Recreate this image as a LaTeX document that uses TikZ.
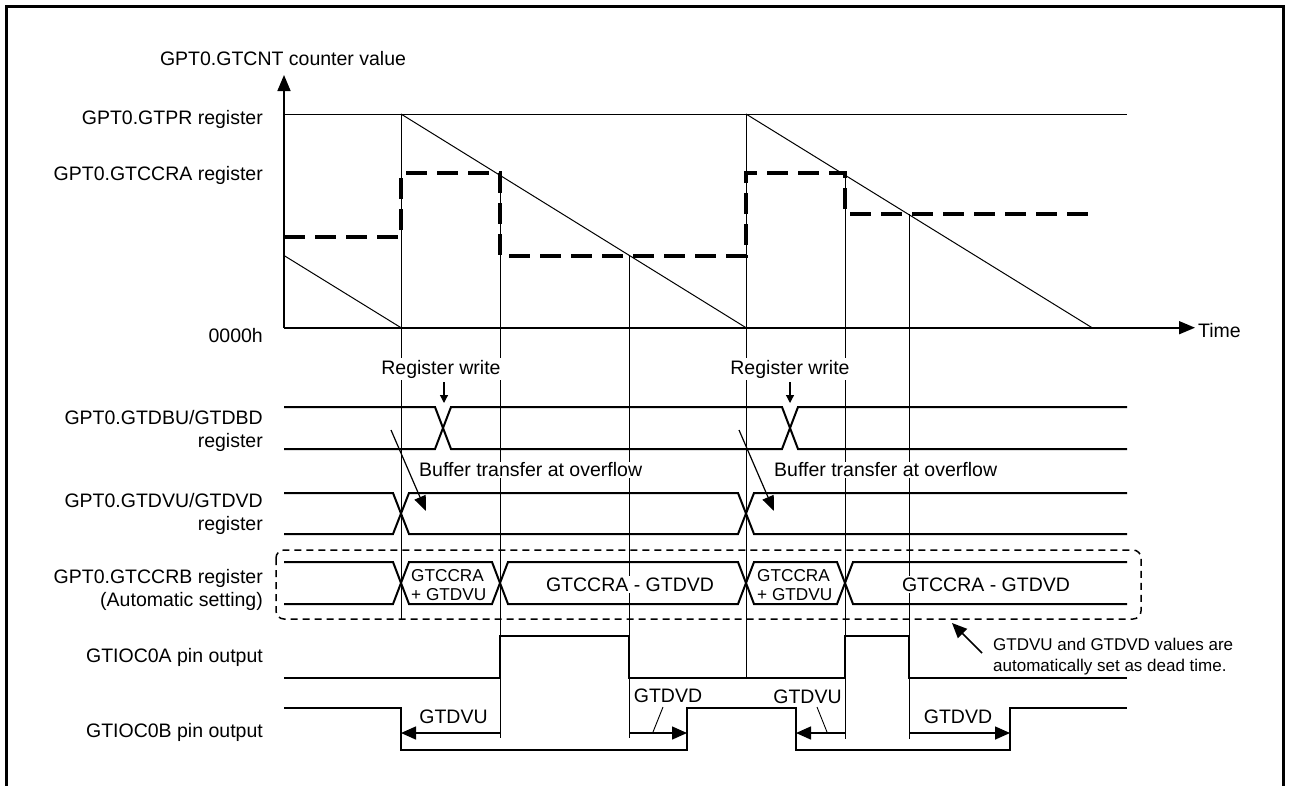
\documentclass[tikz,border=0pt]{standalone}
\usepackage{fontspec}
\setmainfont{Liberation Sans}
\usetikzlibrary{arrows.meta}
\newcommand{\mainfs}{\fontsize{19.5}{23.5}\selectfont}
\newcommand{\smallfs}{\fontsize{17.2}{20}\selectfont}
\newcommand{\notefs}{\fontsize{17}{21}\selectfont}
\begin{document}
\begin{tikzpicture}[x=1pt,y=-1pt,
  thinln/.style={line width=1pt},
  axln/.style={line width=1.6pt},
  sigln/.style={line width=2pt, line join=miter},
  cmpln/.style={line width=4.5pt, dash pattern=on 21pt off 10pt},
  boxln/.style={line width=1.5pt, dash pattern=on 7pt off 5pt, rounded corners=8pt},
  lbl/.style={font=\mainfs, inner sep=0pt},
  wlbl/.style={font=\mainfs, inner sep=1.5pt, fill=white},
  slbl/.style={font=\smallfs, inner sep=0pt},
  nlbl/.style={font=\notefs, inner sep=0pt, anchor=base west},
  dtarr/.style={line width=1.5pt, -{Triangle[length=15pt,width=13pt]}},
  bfarr/.style={line width=1.2pt, -{Triangle[length=15pt,width=12pt]}},
  rwarr/.style={line width=1.2pt, -{Triangle[length=8pt,width=8pt]}},
  axarr/.style={axln, -{Triangle[length=16pt,width=13pt]}},
  leader/.style={line width=0.9pt}
]
\useasboundingbox (0,0) rectangle (1289,785);
\clip (0,0) rectangle (1289,785);
% frame (open at the bottom)
\draw[line width=3pt] (6,830) -- (6,6.5) -- (1283,6.5) -- (1283,830);

% ---------- counter graph ----------
\coordinate (O) at (284,327.7);
\coordinate (Ytip) at (284,75);
\coordinate (Xtip) at (1195,327.7);
\draw[axarr] (O) -- (Ytip);
\draw[axarr] (O) -- (Xtip);
\draw[thinln] (284,114) -- (1127,114);
% sawtooth
\draw[thinln] (284,255.5) -- (401,327.7);
\draw[thinln] (401,114) -- (746,327.7);
\draw[thinln] (746,114) -- (1092,327.7);
% compare register (thick dashed)
\draw[cmpln] (284,237) -- (401,237) -- (401,173) -- (500,173) -- (500,256) -- (746,256) -- (746,173) -- (845,173) -- (845,214) -- (1088,214);

% guide lines
\draw[thinln] (401,114) -- (401,619);
\draw[thinln] (500,173) -- (500,738);
\draw[thinln] (629,256) -- (629,738);
\draw[thinln] (746,114) -- (746,678);
\draw[thinln] (845,173) -- (845,739);
\draw[thinln] (909,214) -- (909,739);

% axis labels
\node[lbl, anchor=base] (ylab) at (283,65) {GPT0.GTCNT counter value};
\node[lbl, anchor=base west] (tlab) at (1198,337) {Time};
\node[lbl, anchor=base east] (prlab) at (263,124) {GPT0.GTPR register};
\node[lbl, anchor=base east] (cralab) at (263,180) {GPT0.GTCCRA register};
\node[lbl, anchor=base east] (zlab) at (263,342) {0000h};

% ---------- GTDBU/GTDBD ----------
\draw[sigln] (284,407) -- (435,407) -- (451,449) -- (782,449) -- (798,407) -- (1127,407);
\draw[sigln] (284,449) -- (435,449) -- (451,407) -- (782,407) -- (798,449) -- (1127,449);
\node[lbl, anchor=base east] (dbl1) at (263,424) {GPT0.GTDBU/GTDBD};
\node[lbl, anchor=base east] (dbl2) at (263,447.5) {register};

% ---------- GTDVU/GTDVD ----------
\draw[sigln] (284,493) -- (393,493) -- (409,534) -- (738,534) -- (754,493) -- (1127,493);
\draw[sigln] (284,534) -- (393,534) -- (409,493) -- (738,493) -- (754,534) -- (1127,534);
\node[lbl, anchor=base east] (dvl1) at (263,507) {GPT0.GTDVU/GTDVD};
\node[lbl, anchor=base east] (dvl2) at (263,530.5) {register};

% ---------- GTCCRB ----------
\draw[boxln] (276,550) rectangle (1141,619);
\draw[sigln] (284,562) -- (393,562) -- (409,604) -- (492,604) -- (508,562) -- (738,562) -- (754,604) -- (837,604) -- (853,562) -- (1127,562);
\draw[sigln] (284,604) -- (393,604) -- (409,562) -- (492,562) -- (508,604) -- (738,604) -- (754,562) -- (837,562) -- (853,604) -- (1127,604);
\node[lbl, anchor=base east] (cbl1) at (263,583) {GPT0.GTCCRB register};
\node[lbl, anchor=base east] (cbl2) at (263,606.5) {(Automatic setting)};
\node[slbl, anchor=base west] (sa1) at (411,581) {GTCCRA};
\node[slbl, anchor=base west] (sb1) at (411,600) {+ GTDVU};
\node[slbl, anchor=base west] (sa2) at (757,581) {GTCCRA};
\node[slbl, anchor=base west] (sb2) at (757,600) {+ GTDVU};
\node[wlbl, anchor=base] (df1) at (630,591) {GTCCRA - GTDVD};
\node[wlbl, anchor=base] (df2) at (986,591) {GTCCRA - GTDVD};

% ---------- GTIOC0A / GTIOC0B ----------
\draw[sigln] (284,678) -- (500,678) -- (500,636) -- (629,636) -- (629,678) -- (845,678) -- (845,636) -- (909,636) -- (909,678) -- (1127,678);
\draw[sigln] (284,708) -- (401,708) -- (401,750) -- (687,750) -- (687,708) -- (796,708) -- (796,750) -- (1010,750) -- (1010,708) -- (1127,708);
\node[lbl, anchor=base east] (oal) at (263,662) {GTIOC0A pin output};
\node[lbl, anchor=base east] (obl) at (263,737) {GTIOC0B pin output};

% dead-time arrows
\coordinate (u1s) at (500,733); \coordinate (u1e) at (401,733);
\coordinate (d1s) at (629,733); \coordinate (d1e) at (687,733);
\coordinate (u2s) at (845,733); \coordinate (u2e) at (796,733);
\coordinate (d2s) at (909,733); \coordinate (d2e) at (1010,733);
\draw[dtarr] (u1s) -- (u1e);
\draw[dtarr] (d1s) -- (d1e);
\draw[dtarr] (u2s) -- (u2e);
\draw[dtarr] (d2s) -- (d2e);
\node[lbl, anchor=base] (tu1) at (453.5,723) {GTDVU};
\node[lbl, anchor=base] (td1) at (668,702) {GTDVD};
\node[lbl, anchor=base] (tu2) at (807.5,703) {GTDVU};
\node[lbl, anchor=base] (td2) at (958,723) {GTDVD};
\draw[leader] (663,707) -- (653,732);
\draw[leader] (817,707) -- (827,732);

% ---------- annotations ----------
\node[wlbl, anchor=base] (rw1) at (441,374) {Register write};
\node[wlbl, anchor=base] (rw2) at (790,374) {Register write};
\coordinate (rw1a) at (444,382); \coordinate (rw1b) at (444,403);
\coordinate (rw2a) at (790,382); \coordinate (rw2b) at (790,403);
\draw[rwarr] (rw1a) -- (rw1b);
\draw[rwarr] (rw2a) -- (rw2b);

\node[wlbl, anchor=base west, inner sep=1pt] (bt1) at (418,476.7) {Buffer transfer at overflow};
\node[wlbl, anchor=base west, inner sep=1pt] (bt2) at (773,476.7) {Buffer transfer at overflow};
\coordinate (bf1a) at (391,430); \coordinate (bf1b) at (426,511);
\coordinate (bf2a) at (739,430); \coordinate (bf2b) at (774,511);
\draw[bfarr] (bf1a) -- (bf1b);
\draw[bfarr] (bf2a) -- (bf2b);

\node[nlbl] (note1) at (993,650) {GTDVU and GTDVD values are};
\node[nlbl] (note2) at (993,671) {automatically set as dead time.};
\coordinate (na) at (982,653); \coordinate (nb) at (952,623);
\draw[dtarr] (na) -- (nb);
\end{tikzpicture}
\end{document}
